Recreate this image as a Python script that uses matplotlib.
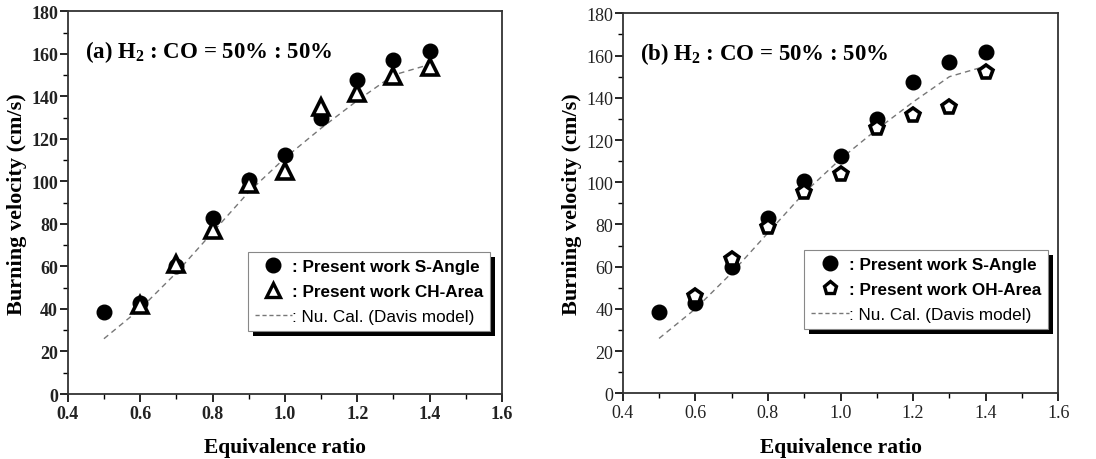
import matplotlib
matplotlib.use("Agg")
import matplotlib.pyplot as plt
from matplotlib.patches import Rectangle
from matplotlib.lines import Line2D

# equivalence ratio
phi_sangle = [0.5, 0.6, 0.7, 0.8, 0.9, 1.0, 1.1, 1.2, 1.3, 1.4]
sangle = [38.5, 43, 60, 83, 100.5, 112.5, 130, 147.5, 157, 161.5]

phi_area = [0.6, 0.7, 0.8, 0.9, 1.0, 1.1, 1.2, 1.3, 1.4]
ch_area = [42, 61, 77, 99, 105, 135, 141.5, 149.5, 154]
oh_area = [46, 63.5, 79, 95.5, 104, 125.5, 132, 135.5, 152]

phi_davis = [0.5, 0.6, 0.7, 0.8, 0.9, 1.0, 1.1, 1.2, 1.3, 1.4]
davis = [26, 40, 57, 76, 95, 111, 125, 138, 150, 155]

xticks = [0.4, 0.6, 0.8, 1.0, 1.2, 1.4, 1.6]
yticks = [0, 20, 40, 60, 80, 100, 120, 140, 160, 180]

plt.rcParams['mathtext.fontset'] = 'custom'
plt.rcParams['mathtext.rm'] = 'Liberation Serif:bold'
plt.rcParams['mathtext.it'] = 'Liberation Serif:bold'
plt.rcParams['mathtext.bf'] = 'Liberation Serif:bold'

fig = plt.figure(figsize=(10.96, 4.6), dpi=100)
ax_a = fig.add_axes([0.0618, 0.1413, 0.3963, 0.832])
ax_b = fig.add_axes([0.5682, 0.1428, 0.3974, 0.826])

serif = 'Liberation Serif'
sans = 'Liberation Sans'


def setup(ax, tick_weight, title, area, marker, area_label, legend_anchor):
    ax.plot(phi_davis, davis, ls=(0, (4, 3)), color='#777777', lw=1.0, zorder=2)
    ax.plot(phi_sangle, sangle, 'o', ms=10.5, mfc='black', mec='black', zorder=3)
    ax.plot(phi_area, area, marker, ms=11 if marker == '^' else 10.5,
            mfc='white', mec='black', mew=2.6, zorder=4)
    ax.set_xlim(0.4, 1.6)
    ax.set_ylim(0, 180)
    ax.set_xticks(xticks)
    ax.set_yticks(yticks)
    ax.set_xticks([0.5, 0.7, 0.9, 1.1, 1.3, 1.5], minor=True)
    ax.set_yticks(list(range(10, 180, 20)), minor=True)
    ax.set_xticklabels([f"{v:.1f}" for v in xticks])
    ax.tick_params(which='major', direction='out', length=6, width=1.2,
                   labelsize=13, pad=2, top=False, right=False)
    ax.tick_params(axis='y', which='major', pad=1)
    ax.tick_params(which='minor', direction='out', length=3.5, width=1.0,
                   top=False, right=False)
    for lab in ax.get_xticklabels() + ax.get_yticklabels():
        lab.set_fontfamily(serif)
        lab.set_fontweight(tick_weight)
        lab.set_color('#222222')
    for sp in ax.spines.values():
        sp.set_linewidth(1.3)
        sp.set_color('#333333')
    ax.set_xlabel('Equivalence ratio', fontsize=15.5, fontweight='bold',
                  family=serif, labelpad=11)
    ax.set_ylabel('Burning velocity (cm/s)', fontsize=16, fontweight='bold',
                  family=serif, labelpad=3)
    ax.text(0.04, 0.895, title, transform=ax.transAxes, fontsize=16.5,
            fontweight='bold', family=serif, va='center')

    handles = [
        Line2D([], [], ls='none', marker='o', ms=10.5, mfc='black', mec='black'),
        Line2D([], [], ls='none', marker=marker, ms=10 if marker == '^' else 9.5,
               mfc='white', mec='black', mew=2.4),
        Line2D([], [], ls=(0, (3, 2)), color='#777777', lw=1.0),
    ]
    labels = [': Present work S-Angle', ': Present work ' + area_label,
              ': Nu. Cal. (Davis model)']
    leg = ax.legend(handles, labels, loc='lower right',
                    bbox_to_anchor=legend_anchor, frameon=True, fancybox=False,
                    framealpha=1, edgecolor='#888888',
                    prop={'family': sans, 'size': 12.3},
                    handlelength=2.2, handletextpad=0.0, labelspacing=0.6,
                    borderpad=0.4, borderaxespad=0)
    leg.get_frame().set_linewidth(0.8)
    for i, t in enumerate(leg.get_texts()):
        t.set_fontweight('bold' if i < 2 else 'normal')
    leg.set_zorder(10)
    return leg


leg_a = setup(ax_a, 'bold', '(a) H$_2$ : CO = 50% : 50%', ch_area, '^',
              'CH-Area', (0.973, 0.165))
leg_b = setup(ax_b, 'normal', '(b) H$_2$ : CO = 50% : 50%', oh_area, 'p',
              'OH-Area', (0.976, 0.169))

# black drop shadow behind the legend boxes
fig.canvas.draw()
for ax, leg in ((ax_a, leg_a), (ax_b, leg_b)):
    bb = leg.get_frame().get_window_extent().transformed(fig.transFigure.inverted())
    dx, dy = 5 / 1096, 5 / 460
    ax.add_patch(Rectangle((bb.x0 + dx, bb.y0 - dy), bb.width, bb.height,
                           transform=fig.transFigure, facecolor='black',
                           edgecolor='none', zorder=9, clip_on=False))

plt.savefig('out.png', dpi=100)
